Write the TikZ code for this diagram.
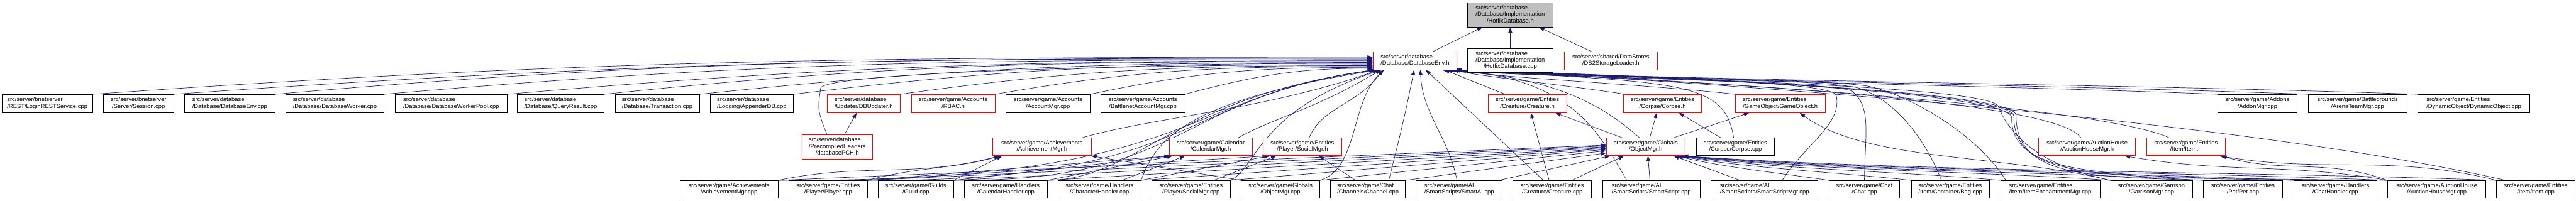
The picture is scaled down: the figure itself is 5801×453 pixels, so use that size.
\documentclass[tikz,border=0pt]{standalone}
\usepackage{fontspec}
\setmainfont{Liberation Sans}
\usetikzlibrary{arrows.meta}
\definecolor{mblue}{HTML}{191970}
\definecolor{rootgray}{HTML}{BFBFBF}
\pgfdeclarelayer{edges}
\pgfsetlayers{edges,main}
\newdimen\pxu \pxu=0.75pt
\newcommand{\lbl}[2]{\begin{tabular}{@{}l@{}}#1\\\multicolumn{1}{@{}c@{}}{#2}\end{tabular}}
\newcommand{\mknode}[7]{\node[#6,minimum width={(#3-#2)*\pxu},minimum height={(#5-#4)*\pxu}] (#1) at ({(#2+#3)/2},{-(#4+#5)/2}) {#7};}
\tikzset{
  box/.style={draw=black, line width=0.75pt, inner sep=0pt, fill=white, font=\fontsize{10}{11}\selectfont},
  rbox/.style={box, draw=red},
  gbox/.style={box, fill=rootgray},
  conn/.style={draw=mblue, line width=0.75pt, -{Triangle[length=9pt,width=6.5pt]}}
}
\begin{document}
\begin{tikzpicture}[x=0.75pt,y=0.75pt]
\useasboundingbox (0,0) rectangle (5801,-453);
% rank 1-2
\mknode{root}{3305}{3497}{6}{61}{gbox}{\lbl{src/server/database\\/Database/Implementation}{/HotfixDatabase.h}}
\mknode{dbenv}{3092}{3281}{117}{157}{rbox}{\lbl{src/server/database}{/Database/DatabaseEnv.h}}
\mknode{hotcpp}{3305}{3497}{109}{164}{box}{\lbl{src/server/database\\/Database/Implementation}{/HotfixDatabase.cpp}}
\mknode{db2}{3522}{3733}{117}{157}{rbox}{\lbl{src/server/shared/DataStores}{/DB2StorageLoader.h}}
% rank 3
\mknode{login}{5}{208}{213}{254}{box}{\lbl{src/server/bnetserver}{/REST/LoginRESTService.cpp}}
\mknode{session}{233}{391}{213}{254}{box}{\lbl{src/server/bnetserver}{/Server/Session.cpp}}
\mknode{envcpp}{416}{619}{213}{254}{box}{\lbl{src/server/database}{/Database/DatabaseEnv.cpp}}
\mknode{worker}{643}{865}{213}{254}{box}{\lbl{src/server/database}{/Database/DatabaseWorker.cpp}}
\mknode{pool}{890}{1142}{213}{254}{box}{\lbl{src/server/database}{/Database/DatabaseWorkerPool.cpp}}
\mknode{qres}{1165}{1360}{213}{254}{box}{\lbl{src/server/database}{/Database/QueryResult.cpp}}
\mknode{trans}{1385}{1575}{213}{254}{box}{\lbl{src/server/database}{/Database/Transaction.cpp}}
\mknode{appdb}{1599}{1787}{213}{254}{box}{\lbl{src/server/database}{/Logging/AppenderDB.cpp}}
\mknode{dbupd}{1863}{2027}{213}{254}{rbox}{\lbl{src/server/database}{/Updater/DBUpdater.h}}
\mknode{rbac}{2052}{2241}{213}{254}{rbox}{\lbl{src/server/game/Accounts}{/RBAC.h}}
\mknode{acc}{2265}{2455}{213}{254}{box}{\lbl{src/server/game/Accounts}{/AccountMgr.cpp}}
\mknode{bnacc}{2479}{2668}{213}{254}{box}{\lbl{src/server/game/Accounts}{/BattlenetAccountMgr.cpp}}
\mknode{creh}{3351}{3528}{213}{254}{rbox}{\lbl{src/server/game/Entities}{/Creature/Creature.h}}
\mknode{corh}{3656}{3832}{213}{254}{rbox}{\lbl{src/server/game/Entities}{/Corpse/Corpse.h}}
\mknode{goh}{3908}{4110}{213}{254}{rbox}{\lbl{src/server/game/Entities}{/GameObject/GameObject.h}}
\mknode{addon}{4994}{5173}{213}{254}{box}{\lbl{src/server/game/Addons}{/AddonMgr.cpp}}
\mknode{arena}{5198}{5420}{213}{254}{box}{\lbl{src/server/game/Battlegrounds}{/ArenaTeamMgr.cpp}}
\mknode{dynobj}{5445}{5697}{213}{254}{box}{\lbl{src/server/game/Entities}{/DynamicObject/DynamicObject.cpp}}
% rank 4
\mknode{pch}{1806}{1965}{304}{359}{rbox}{\lbl{src/server/database\\/PrecompiledHeaders}{/databasePCH.h}}
\mknode{achh}{2236}{2457}{311}{351}{rbox}{\lbl{src/server/game/Achievements}{/AchievementMgr.h}}
\mknode{calh}{2633}{2820}{311}{351}{rbox}{\lbl{src/server/game/Calendar}{/CalendarMgr.h}}
\mknode{socc}{2844}{3022}{311}{351}{rbox}{\lbl{src/server/game/Entities}{/Player/SocialMgr.h}}
\mknode{objh}{3617}{3795}{311}{351}{rbox}{\lbl{src/server/game/Globals}{/ObjectMgr.h}}
\mknode{corcpp}{3820}{3996}{311}{351}{box}{\lbl{src/server/game/Entities}{/Corpse/Corpse.cpp}}
\mknode{ahh}{4591}{4809}{311}{351}{rbox}{\lbl{src/server/game/AuctionHouse}{/AuctionHouseMgr.h}}
\mknode{itemh}{4834}{5011}{311}{351}{rbox}{\lbl{src/server/game/Entities}{/Item/Item.h}}
% rank 5
\mknode{achcpp}{1531}{1752}{407}{447}{box}{\lbl{src/server/game/Achievements}{/AchievementMgr.cpp}}
\mknode{player}{1777}{1953}{407}{447}{box}{\lbl{src/server/game/Entities}{/Player/Player.cpp}}
\mknode{guild}{1978}{2147}{407}{447}{box}{\lbl{src/server/game/Guilds}{/Guild.cpp}}
\mknode{calhand}{2172}{2358}{407}{447}{box}{\lbl{src/server/game/Handlers}{/CalendarHandler.cpp}}
\mknode{charhand}{2383}{2569}{407}{447}{box}{\lbl{src/server/game/Handlers}{/CharacterHandler.cpp}}
\mknode{soccpp}{2594}{2770}{407}{447}{box}{\lbl{src/server/game/Entities}{/Player/SocialMgr.cpp}}
\mknode{objcpp}{2795}{2972}{407}{447}{box}{\lbl{src/server/game/Globals}{/ObjectMgr.cpp}}
\mknode{channel}{2996}{3165}{407}{447}{box}{\lbl{src/server/game/Chat}{/Channels/Channel.cpp}}
\mknode{smartai}{3189}{3383}{407}{447}{box}{\lbl{src/server/game/AI}{/SmartScripts/SmartAI.cpp}}
\mknode{crecpp}{3407}{3584}{407}{447}{box}{\lbl{src/server/game/Entities}{/Creature/Creature.cpp}}
\mknode{smartscript}{3609}{3828}{407}{447}{box}{\lbl{src/server/game/AI}{/SmartScripts/SmartScript.cpp}}
\mknode{ssmgr}{3853}{4094}{407}{447}{box}{\lbl{src/server/game/AI}{/SmartScripts/SmartScriptMgr.cpp}}
\mknode{chat}{4119}{4278}{407}{447}{box}{\lbl{src/server/game/Chat}{/Chat.cpp}}
\mknode{bag}{4304}{4480}{407}{447}{box}{\lbl{src/server/game/Entities}{/Item/Container/Bag.cpp}}
\mknode{itemench}{4505}{4729}{407}{447}{box}{\lbl{src/server/game/Entities}{/Item/ItemEnchantmentMgr.cpp}}
\mknode{garrison}{4753}{4937}{407}{447}{box}{\lbl{src/server/game/Garrison}{/GarrisonMgr.cpp}}
\mknode{pet}{4962}{5140}{407}{447}{box}{\lbl{src/server/game/Entities}{/Pet/Pet.cpp}}
\mknode{chathand}{5165}{5353}{407}{447}{box}{\lbl{src/server/game/Handlers}{/ChatHandler.cpp}}
\mknode{ahcpp}{5377}{5598}{407}{447}{box}{\lbl{src/server/game/AuctionHouse}{/AuctionHouseMgr.cpp}}
\mknode{itemcpp}{5622}{5799}{407}{447}{box}{\lbl{src/server/game/Entities}{/Item/Item.cpp}}

\begin{pgfonlayer}{edges}
% into root
\draw[conn] ([xshift=40\pxu]dbenv.north) -- ([xshift=-63\pxu]root.south);
\draw[conn] (hotcpp.north) -- (root.south);
\draw[conn] ([xshift=-43\pxu]db2.north) -- ([xshift=65\pxu]root.south);
% rank 3 left into DatabaseEnv.h
\draw[conn] (login.north east) .. controls +(1127,79) and +(-1130,0) .. ([yshift=8\pxu]dbenv.west);
\draw[conn] (session.north east) .. controls +(1053,74) and +(-1053,0) .. ([yshift=6\pxu]dbenv.west);
\draw[conn] (envcpp.north east) .. controls +(964,84) and +(-964,0) .. ([yshift=4\pxu]dbenv.west);
\draw[conn] (worker.north east) .. controls +(869,76) and +(-869,0) .. ([yshift=2\pxu]dbenv.west);
\draw[conn] (pool.north east) .. controls +(760,66) and +(-760,0) .. (dbenv.west);
\draw[conn] (qres.north east) .. controls +(675,71) and +(-675,0) .. ([yshift=-2\pxu]dbenv.west);
\draw[conn] (trans.north east) .. controls +(592,62) and +(-592,0) .. ([yshift=-4\pxu]dbenv.west);
\draw[conn] (appdb.north east) .. controls +(509,62) and +(-509,0) .. ([yshift=-6\pxu]dbenv.west);
\draw[conn] (dbupd.north east) .. controls +(415,58) and +(-415,0) .. ([yshift=-11\pxu]dbenv.west);
\draw[conn] (rbac.north east) .. controls +(332,58) and +(-332,0) .. ([yshift=-13\pxu]dbenv.west);
\draw[conn] (acc.north east) .. controls +(248,53) and +(-248,0) .. ([yshift=-15\pxu]dbenv.west);
\draw[conn] (bnacc.north east) .. controls +(165,44) and +(-165,0) .. ([yshift=-17\pxu]dbenv.west);
% databasePCH.h
\draw[conn] ([xshift=-23\pxu]pch.north) .. controls +(-25,60) and +(-5,-40) .. (1848,-199) .. controls (1853,-169) and (2392,-146) .. ([yshift=-9\pxu]dbenv.west);
\draw[conn] ([xshift=16\pxu]pch.north) -- ([xshift=-16\pxu]dbupd.south);
% rank 4 left into DatabaseEnv.h
\draw[conn] ([xshift=91\pxu]achh.north) .. controls +(150,45) and +(-250,-90) .. ([xshift=-82\pxu]dbenv.south);
\draw[conn] ([xshift=62\pxu]calh.north) .. controls +(80,45) and +(-150,-90) .. ([xshift=-77\pxu]dbenv.south);
\draw[conn] ([xshift=15\pxu]socc.north) .. controls +(30,70) and +(-60,-80) .. ([xshift=-72\pxu]dbenv.south);
% rank 5 left into DatabaseEnv.h
\draw[conn] (achcpp.north east) .. controls (2700,-410) and (2640,-222) .. ([xshift=-92\pxu]dbenv.south);
\draw[conn] (player.north east) .. controls (2700,-410) and (2640,-221) .. ([xshift=-90\pxu]dbenv.south);
\draw[conn] (guild.north east) .. controls (2680,-410) and (2640,-220) .. ([xshift=-88\pxu]dbenv.south);
\draw[conn] (calhand.north east) .. controls (2560,-405) and (2640,-219) .. ([xshift=-86\pxu]dbenv.south);
\draw[conn] (charhand.north east) .. controls (2600,-330) and (2640,-230) .. ([xshift=-80\pxu]dbenv.south);
\draw[conn] (soccpp.north east) .. controls (2830,-380) and (2830,-250) .. ([xshift=-75\pxu]dbenv.south);
\draw[conn] (objcpp.north east) .. controls (3060,-380) and (3040,-230) .. ([xshift=-70\pxu]dbenv.south);
% middle into DatabaseEnv.h
\draw[conn] ([xshift=47\pxu]channel.north) .. controls +(30,120) and +(-20,-100) .. ([xshift=-2\pxu]dbenv.south);
\draw[conn] ([xshift=-5\pxu]smartai.north) .. controls +(-20,100) and +(5,-100) .. ([xshift=12\pxu]dbenv.south);
\draw[conn] ([xshift=-20\pxu]crecpp.north) -- ([xshift=24\pxu]dbenv.south);
\draw[conn] ([xshift=-55\pxu]smartscript.north) .. controls (3600,-300) and (3540,-170) .. ([xshift=60\pxu]dbenv.south);
\draw[conn] ([xshift=-14\pxu]objh.north) .. controls +(-80,70) and +(250,-20) .. ([xshift=76\pxu]dbenv.south);
\draw[conn] ([xshift=-4\pxu]corcpp.north) .. controls +(-20,130) and +(500,-30) .. ([xshift=92\pxu]dbenv.south);
\draw[conn] ([xshift=-50\pxu]creh.north) -- ([xshift=66\pxu]dbenv.south);
\draw[conn] ([xshift=-85\pxu]corh.north) .. controls +(-110,18) and +(60,-15) .. ([xshift=86\pxu]dbenv.south);
\draw[conn] (goh.north west) .. controls +(-208,23) and +(100,-18) .. ([xshift=90\pxu]dbenv.south);
% right rank 3 / rank 4 into DatabaseEnv.h
\draw[conn] (addon.north west) .. controls +(-500,20) and +(500,-25) .. ([xshift=84\pxu]dbenv.south);
\draw[conn] (arena.north west) .. controls +(-600,22) and +(550,-25) .. ([xshift=86\pxu]dbenv.south);
\draw[conn] (dynobj.north west) .. controls +(-700,24) and +(600,-26) .. ([xshift=88\pxu]dbenv.south);
\draw[conn] ([xshift=-14\pxu]ahh.north) .. controls +(-60,90) and +(500,-25) .. ([xshift=80\pxu]dbenv.south);
\draw[conn] ([xshift=-38\pxu]itemh.north) .. controls +(-150,70) and +(600,-25) .. ([xshift=82\pxu]dbenv.south);
% right rank 5 into DatabaseEnv.h
\draw[conn] ([xshift=40\pxu]ssmgr.north) .. controls +(50,80) and (4150,-280) .. (4135,-215) .. controls (4125,-175) and (3470,-177) .. ([xshift=70\pxu]dbenv.south);
\draw[conn] (chat.north) .. controls (4200,-300) and (4215,-240) .. (4170,-205) .. controls (4100,-180) and (3520,-178) .. ([xshift=72\pxu]dbenv.south);
\draw[conn] ([xshift=-20\pxu]bag.north) .. controls (4330,-300) and (4260,-225) .. (4190,-200) .. controls (4120,-175) and (3540,-176) .. ([xshift=74\pxu]dbenv.south);
\draw[conn] ([xshift=-100\pxu]itemench.north) .. controls (4450,-300) and (4300,-215) .. (4210,-195) .. controls (4130,-178) and (3560,-174) .. ([xshift=76\pxu]dbenv.south);
\draw[conn] (garrison.north west) .. controls (4650,-385) and (4540,-340) .. (4500,-240) .. controls (4480,-190) and (3600,-175) .. ([xshift=78\pxu]dbenv.south);
\draw[conn] (pet.north west) .. controls (4700,-398) and (4540,-400) .. (4540,-260) .. controls (4540,-200) and (3650,-172) .. ([xshift=88\pxu]dbenv.south);
\draw[conn] ([xshift=-80\pxu]chathand.north) .. controls (4720,-398) and (4535,-403) .. (4535,-262) .. controls (4535,-202) and (3660,-170) .. ([xshift=90\pxu]dbenv.south);
\draw[conn] ([xshift=-100\pxu]ahcpp.north) .. controls (4750,-400) and (4530,-405) .. (4530,-265) .. controls (4530,-205) and (3670,-168) .. ([xshift=92\pxu]dbenv.south);
\draw[conn] ([xshift=-68\pxu]itemcpp.north) .. controls (5000,-260) and (3700,-175) .. ([xshift=94\pxu]dbenv.south);
% into ObjectMgr.h
\draw[conn] (achcpp.north east) -- ([yshift=4\pxu]objh.west);
\draw[conn] (player.north east) -- ([yshift=2\pxu]objh.west);
\draw[conn] (guild.north east) -- (objh.west);
\draw[conn] (calhand.north east) -- ([yshift=-2\pxu]objh.west);
\draw[conn] (charhand.north east) -- ([yshift=-4\pxu]objh.west);
\draw[conn] (soccpp.north east) -- ([yshift=-6\pxu]objh.west);
\draw[conn] (objcpp.north east) -- ([yshift=-9\pxu]objh.west);
\draw[conn] (channel.north east) -- ([yshift=-14\pxu]objh.west);
\draw[conn] ([xshift=89\pxu]smartai.north) -- ([xshift=-80\pxu]objh.south);
\draw[conn] ([xshift=44\pxu]crecpp.north) -- ([xshift=-49\pxu]objh.south);
\draw[conn] ([xshift=-3\pxu]smartscript.north) -- ([xshift=5\pxu]objh.south);
\draw[conn] ([xshift=-55\pxu]ssmgr.north) -- ([xshift=63\pxu]objh.south);
\draw[conn] (chat.north west) .. controls +(-100,15) and +(100,-25) .. ([xshift=70\pxu]objh.south);
\draw[conn] (bag.north west) .. controls +(-160,18) and +(160,-28) .. ([xshift=72\pxu]objh.south);
\draw[conn] (itemench.north west) .. controls +(-220,20) and +(220,-30) .. ([xshift=74\pxu]objh.south);
\draw[conn] (garrison.north west) .. controls +(-290,20) and +(290,-32) .. ([xshift=76\pxu]objh.south);
\draw[conn] (pet.north west) .. controls +(-350,20) and +(350,-34) .. ([xshift=78\pxu]objh.south);
\draw[conn] (chathand.north west) .. controls +(-420,20) and +(420,-35) .. ([xshift=80\pxu]objh.south);
\draw[conn] (ahcpp.north west) .. controls +(-480,20) and +(480,-36) .. ([xshift=82\pxu]objh.south);
\draw[conn] (itemcpp.north west) .. controls +(-550,20) and +(550,-37) .. ([xshift=84\pxu]objh.south);
% into AchievementMgr.h
\draw[conn] (achcpp.north east) .. controls +(190,40) and +(-190,-50) .. ([xshift=-96\pxu]achh.south);
\draw[conn] (player.north east) .. controls +(110,30) and +(-110,-30) .. ([xshift=-93\pxu]achh.south);
\draw[conn] (guild.north east) -- ([xshift=-90\pxu]achh.south);
\draw[conn] (objcpp.north west) -- (achh.south east);
% into CalendarMgr.h
\draw[conn] (player.north east) -- ([xshift=-93\pxu]calh.south);
\draw[conn] (guild.north east) -- ([xshift=-90\pxu]calh.south);
\draw[conn] (calhand.north east) -- ([xshift=-86\pxu]calh.south);
\draw[conn] ([xshift=51\pxu]charhand.north) -- ([xshift=-58\pxu]calh.south);
% into SocialMgr.h
\draw[conn] (player.north east) -- ([xshift=-78\pxu]socc.south);
\draw[conn] (charhand.north east) -- ([xshift=-74\pxu]socc.south);
\draw[conn] ([xshift=51\pxu]soccpp.north) -- ([xshift=-59\pxu]socc.south);
\draw[conn] ([xshift=-28\pxu]channel.north) -- ([xshift=37\pxu]socc.south);
% Creature.h, Corpse.h, GameObject.h
\draw[conn] ([xshift=-53\pxu]objh.north) -- ([xshift=63\pxu]creh.south);
\draw[conn] ([xshift=-7\pxu]crecpp.north) -- ([xshift=8\pxu]creh.south);
\draw[conn] ([xshift=9\pxu]objh.north) -- ([xshift=-13\pxu]corh.south);
\draw[conn] ([xshift=-33\pxu]corcpp.north) -- ([xshift=37\pxu]corh.south);
\draw[conn] ([xshift=63\pxu]objh.north) -- ([xshift=-70\pxu]goh.south);
\draw[conn] (garrison.north west) .. controls +(-250,60) and +(150,-110) .. ([xshift=44\pxu]goh.south);
% AuctionHouseMgr.h, Item.h
\draw[conn] (ahcpp.north west) .. controls +(-230,40) and +(230,-40) .. ([xshift=85\pxu]ahh.south);
\draw[conn] (ahcpp.north west) .. controls +(-140,50) and +(140,-40) .. ([xshift=80\pxu]itemh.south);
\draw[conn] (itemcpp.north west) .. controls +(-240,60) and +(240,-40) .. ([xshift=76\pxu]itemh.south);
\end{pgfonlayer}
\end{tikzpicture}
\end{document}
